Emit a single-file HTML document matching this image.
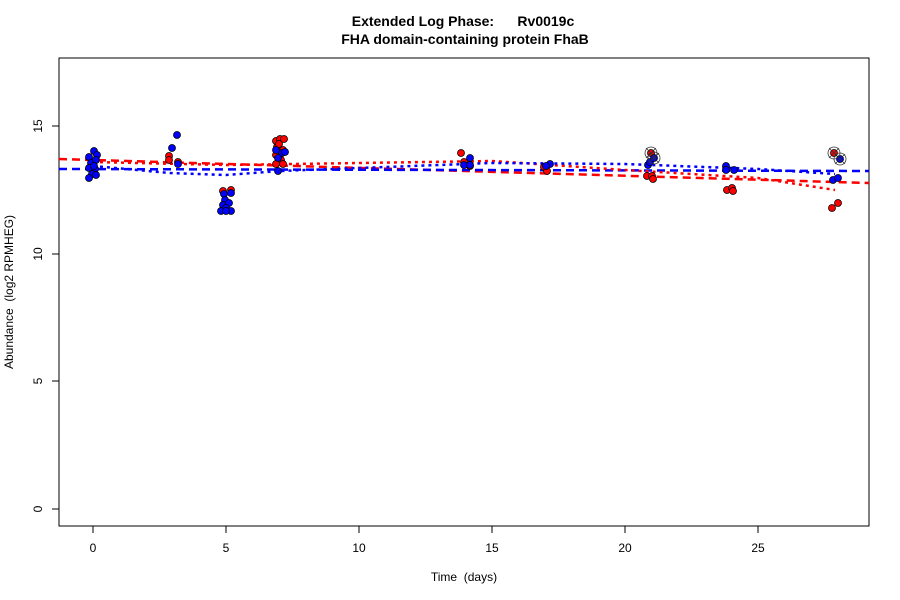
<!DOCTYPE html><html><head><style>body{margin:0;background:#fff}svg{display:block}text{font-family:"Liberation Sans",sans-serif;white-space:pre}</style></head><body>
<svg width="900" height="600" xmlns="http://www.w3.org/2000/svg" xml:space="preserve">
<rect width="900" height="600" fill="#fff"/>
<text x="463" y="26" text-anchor="middle" font-size="14" font-weight="bold">Extended Log Phase:      Rv0019c</text>
<text x="465" y="44" text-anchor="middle" font-size="14" font-weight="bold">FHA domain-containing protein FhaB</text>
<rect x="59" y="58" width="810" height="468" fill="none" stroke="#000"/>
<g stroke="#000" fill="none">
<path d="M93 526v7M226 526v7M359 526v7M492 526v7M625 526v7M758 526v7"/>
<path d="M59 509h-7M59 381h-7M59 254h-7M59 126h-7"/>
</g>
<g font-size="12" text-anchor="middle">
<text x="93" y="552">0</text><text x="226" y="552">5</text><text x="359" y="552">10</text><text x="492" y="552">15</text><text x="625" y="552">20</text><text x="758" y="552">25</text>
<text x="464" y="581">Time  (days)</text>
</g>
<g font-size="12" text-anchor="middle">
<text transform="translate(42,509) rotate(-90)">0</text>
<text transform="translate(42,381) rotate(-90)">5</text>
<text transform="translate(42,254) rotate(-90)">10</text>
<text transform="translate(42,126) rotate(-90)">15</text>
<text transform="translate(13,292) rotate(-90)">Abundance  (log2 RPMHEG)</text>
</g>
<g fill="none" stroke-width="2.5">
<path d="M59 159L869 183" stroke="#f00" stroke-dasharray="8,5"/>
<path d="M59 169L869 171" stroke="#00f" stroke-dasharray="8,5"/>
<path d="M93 162L226 165L359 163L492 161L625 170L758 178L835 190" stroke="#f00" stroke-dasharray="3,4"/>
<path d="M93 166L170 173L226 175L280 171L359 168L492 163L625 164L758 169L835 174" stroke="#00f" stroke-dasharray="3,4"/>
</g>
<g stroke="#000" stroke-width="0.8">
<g fill="#f00">
<circle cx="169" cy="156" r="3.5"/><circle cx="169" cy="160" r="3.5"/><circle cx="178" cy="162" r="3.5"/>
<circle cx="223" cy="191" r="3.5"/><circle cx="231" cy="190" r="3.5"/>
<circle cx="276" cy="141" r="3.5"/><circle cx="280" cy="139" r="3.5"/><circle cx="284" cy="139" r="3.5"/><circle cx="277" cy="147" r="3.5"/><circle cx="283" cy="150" r="3.5"/><circle cx="276" cy="155" r="3.5"/><circle cx="281" cy="160" r="3.5"/><circle cx="283" cy="164" r="3.5"/><circle cx="276" cy="164" r="3.5"/><circle cx="279" cy="144" r="3.5"/>
<circle cx="461" cy="153" r="3.5"/><circle cx="464" cy="162" r="3.5"/><circle cx="470" cy="166" r="3.5"/>
<circle cx="544" cy="167" r="3.5"/><circle cx="547" cy="171" r="3.5"/>
<circle cx="647" cy="176" r="3.5"/><circle cx="652" cy="176" r="3.5"/><circle cx="653" cy="179" r="3.5"/><circle cx="651" cy="153" r="3.5"/>
<circle cx="727" cy="190" r="3.5"/><circle cx="732" cy="188" r="3.5"/><circle cx="733" cy="191" r="3.5"/>
<circle cx="832" cy="208" r="3.5"/><circle cx="838" cy="203" r="3.5"/><circle cx="834" cy="153" r="3.5"/>
</g>
<g fill="#00f">
<circle cx="89" cy="157" r="3.5"/><circle cx="94" cy="151" r="3.5"/><circle cx="97" cy="155" r="3.5"/><circle cx="91" cy="163" r="3.5"/><circle cx="96" cy="160" r="3.5"/><circle cx="89" cy="168" r="3.5"/><circle cx="95" cy="169" r="3.5"/><circle cx="92" cy="174" r="3.5"/><circle cx="96" cy="175" r="3.5"/><circle cx="89" cy="178" r="3.5"/><circle cx="94" cy="166" r="3.5"/>
<circle cx="177" cy="135" r="3.5"/><circle cx="172" cy="148" r="3.5"/><circle cx="178" cy="164" r="3.5"/>
<circle cx="224" cy="194" r="3.5"/><circle cx="231" cy="193" r="3.5"/><circle cx="225" cy="200" r="3.5"/><circle cx="223" cy="205" r="3.5"/><circle cx="229" cy="203" r="3.5"/><circle cx="226" cy="208" r="3.5"/><circle cx="221" cy="211" r="3.5"/><circle cx="231" cy="211" r="3.5"/><circle cx="226" cy="211" r="3.5"/>
<circle cx="276" cy="150" r="3.5"/><circle cx="282" cy="153" r="3.5"/><circle cx="285" cy="152" r="3.5"/><circle cx="278" cy="158" r="3.5"/><circle cx="278" cy="171" r="3.5"/>
<circle cx="470" cy="158" r="3.5"/><circle cx="464" cy="165" r="3.5"/><circle cx="470" cy="165" r="3.5"/>
<circle cx="550" cy="164" r="3.5"/><circle cx="546" cy="166" r="3.5"/>
<circle cx="648" cy="165" r="3.5"/><circle cx="650" cy="162" r="3.5"/><circle cx="654" cy="158" r="3.5"/>
<circle cx="726" cy="166" r="3.5"/><circle cx="726" cy="170" r="3.5"/><circle cx="734" cy="170" r="3.5"/>
<circle cx="833" cy="180" r="3.5"/><circle cx="838" cy="178" r="3.5"/><circle cx="840" cy="159" r="3.5"/>
</g>
</g>
<g fill="none" stroke="#333" stroke-width="0.8">
<circle cx="651" cy="153" r="6"/><circle cx="654" cy="158" r="6"/><circle cx="834" cy="153" r="6"/><circle cx="840" cy="159" r="6"/>
<path d="M646 148l10 10M656 148l-10 10M649 153l10 10M659 153l-10 10M829 148l10 10M839 148l-10 10M835 154l10 10M845 154l-10 10"/>
</g>
</svg>
</body></html>
